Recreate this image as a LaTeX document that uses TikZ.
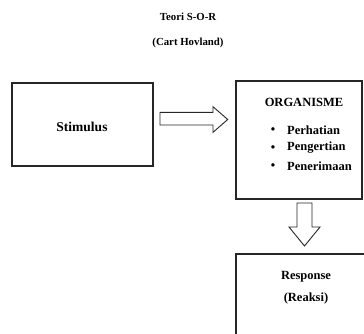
\documentclass[tikz,border=0pt]{standalone}
\usepackage{fontspec}
\setmainfont{Liberation Serif}
\begin{document}
\begin{tikzpicture}[x=1pt,y=-1pt,
  boxline/.style={draw=black!85,line width=1.1pt},
  fatarrow/.style={draw=black!85,line width=0.9pt,fill=white,line join=miter},
  title/.style={font=\bfseries\fontsize{10.8}{12}\selectfont,inner sep=0pt},
  lbl/.style={font=\bfseries\fontsize{12.5}{14}\selectfont,inner sep=0pt},
  big/.style={font=\bfseries\fontsize{13.5}{15}\selectfont,inner sep=0pt}]
\useasboundingbox (0,0) rectangle (364,333);
\clip (0,0) rectangle (364,333);
% title
\node[title] (t1) at (188,17) {Teori S-O-R};
\node[title] (t2) at (188,43) {(Cart Hovland)};
% boxes
\draw[boxline] (12,83) rectangle (153,166);
\node[big] (stim) at (82,127) {Stimulus};
\draw[boxline] (236,81) rectangle (362,199);
\node[lbl] (org) at (304,102) {ORGANISME};
\node[lbl] (b1) at (273,131) {\textbullet};
\node[lbl] (b2) at (273,149) {\textbullet};
\node[lbl] (b3) at (273,167) {\textbullet};
\node[lbl,anchor=west] (p1) at (287,130) {Perhatian};
\node[lbl,anchor=west] (p2) at (287,148) {Pengertian};
\node[lbl,anchor=west] (p3) at (287,166) {Penerimaan};
\draw[boxline] (236,254) rectangle (370,345);
\node[lbl] (resp) at (306,277) {Response};
\node[lbl] (reak) at (306,298) {(Reaksi)};
% right fat arrow
\draw[fatarrow] (160,112.3) -- (213,112.3) -- (213,106.7) -- (227.7,119.5)
  -- (213,132.3) -- (213,125) -- (160,125) -- cycle;
% down fat arrow
\draw[fatarrow] (297,203) -- (312,203) -- (312,227) -- (320,227) -- (304.5,246)
  -- (289,227) -- (297,227) -- cycle;
\end{tikzpicture}
\end{document}
